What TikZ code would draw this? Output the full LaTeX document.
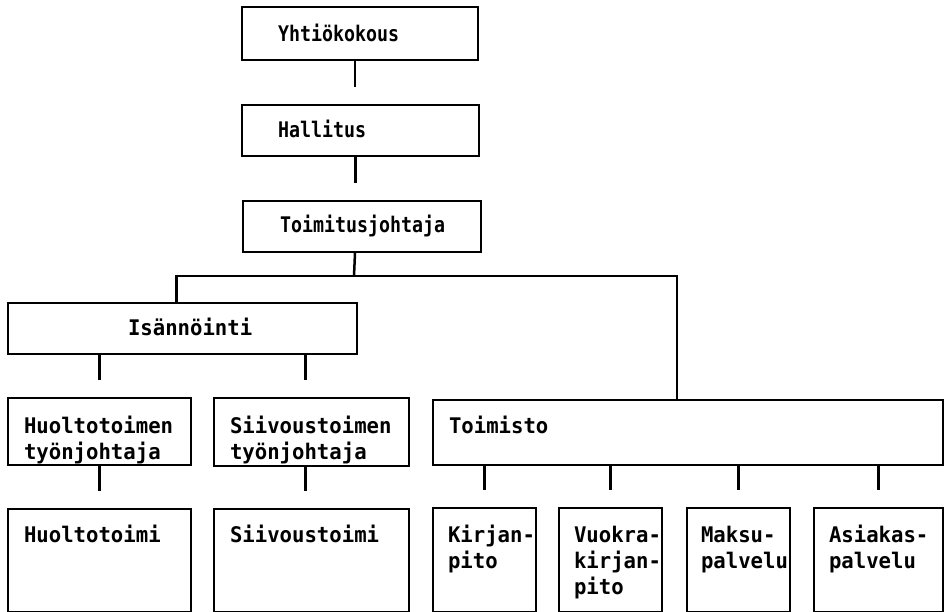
\documentclass[tikz,border=0pt]{standalone}
\usepackage{fontspec}
\newfontfamily\konefont[FakeStretch=0.85]{DejaVu Sans Mono Bold}
\newfontfamily\alafont[FakeStretch=0.96]{DejaVu Sans Mono Bold}
\hyphenpenalty=10000
\exhyphenpenalty=10000

\begin{document}
\begin{tikzpicture}[x=1pt,y=-1pt,
    boks/.style={draw, line width=2pt, anchor=north west, inner ysep=0pt, align=left,
      font={\konefont\fontsize{21.5}{26}\selectfont}},
    alaboks/.style={boks, font={\alafont\fontsize{21.5}{26}\selectfont}},
    viiva/.style={line width=2.5pt},
    tynka/.style={viiva, shorten >=17pt}]
  \useasboundingbox (0,0) rectangle (949,612);
  %% ylin johto
  \node[boks, inner xsep=36pt, text width=164pt, text height=35pt, text depth=18pt] (yhtio) at (241,6) {Yhtiökokous};
  \node[boks, inner xsep=36pt, text width=165pt, text height=33pt, text depth=18pt] (hallitus) at (241,104) {Hallitus};
  \node[boks, inner xsep=37pt, text width=164pt, text height=32pt, text depth=19pt] (toimitus) at (242,200) {Toimitusjohtaja};
  %% isannointi
  \node[alaboks, inner xsep=120pt, text width=109pt, text height=32pt, text depth=19pt] (isannointi) at (7,302) {Isännöinti};
  \node[alaboks, inner xsep=16pt, text width=151pt, text height=35pt, text depth=32pt] (huoltotj) at (7,397) {Huoltotoimen\\työnjohtaja};
  \node[alaboks, inner xsep=16pt, text width=163pt, text height=35pt, text depth=33pt] (siivoustj) at (213,397) {Siivoustoimen\\työnjohtaja};
  \node[alaboks, inner xsep=16pt, text width=151pt, text height=33pt, text depth=70pt] (huoltotoimi) at (7,508) {Huoltotoimi};
  \node[alaboks, inner xsep=16pt, text width=163pt, text height=33pt, text depth=70pt] (siivoustoimi) at (213,508) {Siivoustoimi};
  %% toimisto
  \node[alaboks, inner xsep=16pt, text width=478pt, text height=33pt, text depth=32pt] (toimisto) at (432,399) {Toimisto};
  \node[alaboks, inner xsep=15pt, text width=73pt, text height=34pt, text depth=70pt] (kirjanpito) at (432,507) {Kirjan-\\pito};
  \node[alaboks, inner xsep=15pt, text width=73pt, text height=34pt, text depth=70pt] (vuokra) at (558,507) {Vuokra-\\kirjan-\\pito};
  \node[alaboks, inner xsep=14pt, text width=75pt, text height=34pt, text depth=70pt] (maksu) at (686,507) {Maksu-\\palvelu};
  \node[alaboks, inner xsep=15pt, text width=99pt, text height=34pt, text depth=70pt] (asiakas) at (813,507) {Asiakas-\\palvelu};
  %% yhteydet ylhaalla
  \draw[tynka] ([xshift=-5pt]yhtio.south) -- ([xshift=-5pt]yhtio.south |- hallitus.north);
  \draw[tynka] ([xshift=-5pt]hallitus.south) -- ([xshift=-5pt]hallitus.south |- toimitus.north);
  %% haarautuminen
  \coordinate (haara) at (354,276);
  \draw[viiva] ([xshift=-7pt]toimitus.south) -- (haara);
  \draw[viiva] ([xshift=-6pt]isannointi.north) |- (haara) -| ([xshift=-11pt]toimisto.north);
  %% isannoinnin alaiset
  \draw[tynka] (huoltotj.north |- isannointi.south) -- (huoltotj.north);
  \draw[tynka] ([xshift=-6pt]siivoustj.north |- isannointi.south) -- ([xshift=-6pt]siivoustj.north);
  \draw[tynka] (huoltotoimi.north |- huoltotj.south) -- (huoltotoimi.north);
  \draw[tynka] ([xshift=-6pt]siivoustoimi.north |- siivoustj.south) -- ([xshift=-6pt]siivoustoimi.north);
  %% toimiston alaiset
  \foreach \osa in {kirjanpito,vuokra,maksu,asiakas}
    \draw[tynka] (\osa.north |- toimisto.south) -- (\osa.north);
\end{tikzpicture}
\end{document}
